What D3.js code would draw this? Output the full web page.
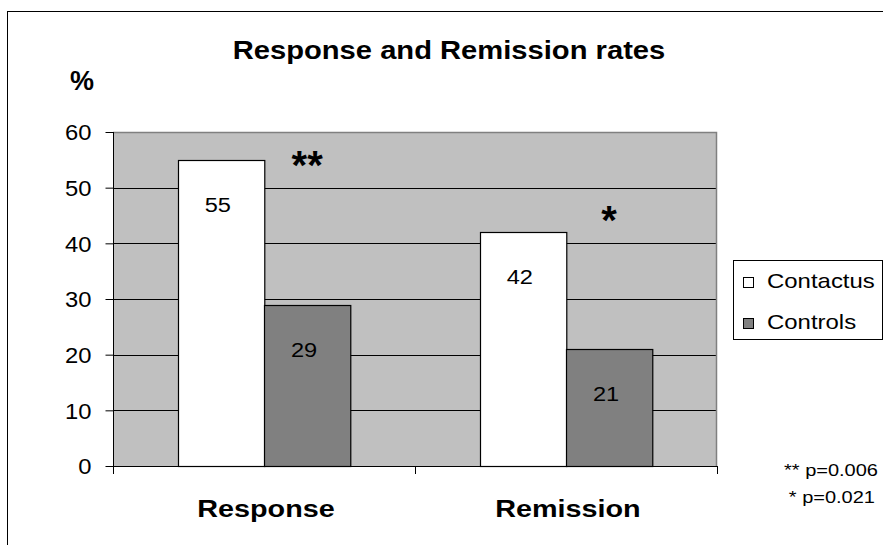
<!DOCTYPE html>
<html>
<head>
<meta charset="utf-8">
<script src="https://cdn.jsdelivr.net/npm/d3@7"></script>
<style>
  html, body { margin: 0; padding: 0; background: #fff; }
  svg { display: block; font-family: Arial, "Liberation Sans", sans-serif; }
</style>
</head>
<body>
<svg id="chart" width="883" height="545"></svg>
<script>
// ---- data ----
const categories = ["Response", "Remission"];
const series = ["Contactus", "Controls"];
const contactusValues = [55, 42];
const controlsValues = [29, 21];
const significanceMarks = ["**", "*"];
const significanceLevels = [55.3, 45.5];
const yTickValues = [0, 10, 20, 30, 40, 50, 60];
const pValueNotes = ["** p=0.006", "* p=0.021"];
const seriesColors = ["#FFFFFF", "#808080"];

// ---- layout ----
const svg = d3.select("#chart");
const W = 883, H = 545;
const plot = { left: 113, right: 717, top: 132, bottom: 466 };

// stretch text horizontally to mimic the wide rendering of the original
function stretch(sel, factor) {
  sel.each(function () {
    const w = this.getComputedTextLength();
    d3.select(this).attr("textLength", w * factor).attr("lengthAdjust", "spacingAndGlyphs");
  });
  return sel;
}

// outer border
svg.append("rect")
  .attr("x", 7.5).attr("y", 11.5)
  .attr("width", W + 20).attr("height", H + 20)
  .attr("fill", "none").attr("stroke", "#000").attr("stroke-width", 1);

// scales
const x0 = d3.scaleBand().domain(categories).range([plot.left, plot.right]).paddingInner(0).paddingOuter(0);
const bw = x0.bandwidth() / 3.5; // gap width 150%
const x1 = d3.scaleBand().domain(series).range([0.75 * bw, x0.bandwidth() - 0.75 * bw]).padding(0);
const y = d3.scaleLinear().domain([0, 60]).range([plot.bottom, plot.top]);

// plot background
svg.append("rect")
  .attr("x", plot.left).attr("y", plot.top)
  .attr("width", plot.right - plot.left).attr("height", plot.bottom - plot.top)
  .attr("fill", "#C0C0C0");

// gridlines
svg.append("g").selectAll("line")
  .data(yTickValues.filter(d => d > 0 && d < 60))
  .join("line")
  .attr("x1", plot.left).attr("x2", plot.right)
  .attr("y1", d => Math.round(y(d)) + 0.5).attr("y2", d => Math.round(y(d)) + 0.5)
  .attr("stroke", "#000").attr("stroke-width", 1);

// plot border (top & right gray)
svg.append("path")
  .attr("d", `M${plot.left},${plot.top + 0.5}H${plot.right - 0.5}V${plot.bottom}`)
  .attr("fill", "none").attr("stroke", "#808080").attr("stroke-width", 1.5);

// bars
const rows = categories.map((c, i) => ({ cat: c, vals: [contactusValues[i], controlsValues[i]] }));
const gBars = svg.append("g");
rows.forEach(r => {
  r.vals.forEach((v, j) => {
    const xx = x0(r.cat) + x1(series[j]);
    gBars.append("rect")
      .attr("x", Math.round(xx) + 0.5)
      .attr("y", Math.round(y(v)) + 0.5)
      .attr("width", x1.bandwidth())
      .attr("height", y(0) - Math.round(y(v)))
      .attr("fill", seriesColors[j])
      .attr("stroke", "#000").attr("stroke-width", 1.2);
    const lab = gBars.append("text")
      .attr("x", xx + x1.bandwidth() / 2 - 3)
      .attr("y", y(v) + 52)
      .attr("text-anchor", "middle")
      .attr("font-size", 20)
      .attr("fill", "#000")
      .text(v);
    stretch(lab, 1.18);
  });
});

// significance marks over controls bars
categories.forEach((c, i) => {
  const t = svg.append("text")
    .attr("x", x0(c) + x1("Controls") + x1.bandwidth() / 2)
    .attr("y", y(significanceLevels[i]) + 21)
    .attr("text-anchor", "middle")
    .attr("font-size", 40)
    .attr("font-weight", "bold")
    .text(significanceMarks[i]);
});

// y axis
const yAxis = d3.axisLeft(y).tickValues(yTickValues).tickSize(8).tickPadding(0).tickFormat(d3.format("d"));
const gy = svg.append("g").attr("transform", `translate(${plot.left + 0.5},0)`).call(yAxis);
gy.select(".domain").attr("stroke", "#000").attr("d", `M0,${plot.top}V${plot.bottom}`);
gy.selectAll(".tick line").attr("stroke", "#000");
gy.selectAll(".tick text")
  .attr("x", -22)
  .attr("font-size", 22)
  .attr("font-family", "Arial, 'Liberation Sans', sans-serif")
  .attr("fill", "#000")
  .attr("dy", "0.36em");
stretch(gy.selectAll(".tick text"), 1.08);

// x axis (category boundary ticks)
const gx = svg.append("g");
gx.append("line")
  .attr("x1", plot.left).attr("x2", plot.right)
  .attr("y1", plot.bottom + 0.5).attr("y2", plot.bottom + 0.5)
  .attr("stroke", "#000");
const boundaries = categories.map(c => x0(c)).concat([x0(categories[categories.length - 1]) + x0.bandwidth()]);
gx.selectAll("line.tk").data(boundaries).join("line")
  .attr("class", "tk")
  .attr("x1", d => Math.round(d) + 0.5).attr("x2", d => Math.round(d) + 0.5)
  .attr("y1", plot.bottom).attr("y2", plot.bottom + 8)
  .attr("stroke", "#000");
const catLabels = gx.selectAll("text.cat").data(categories).join("text")
  .attr("class", "cat")
  .attr("x", d => x0(d) + x0.bandwidth() / 2 + 2)
  .attr("y", 517)
  .attr("text-anchor", "middle")
  .attr("font-size", 23)
  .attr("font-weight", "bold")
  .text(d => d);
stretch(catLabels, 1.25);

// title
const title = svg.append("text")
  .attr("x", 449).attr("y", 58.5)
  .attr("text-anchor", "middle")
  .attr("font-size", 26.5)
  .attr("font-weight", "bold")
  .text("Response and Remission rates");
stretch(title, 1.1);

// % label
svg.append("text")
  .attr("x", 82).attr("y", 90)
  .attr("text-anchor", "middle")
  .attr("font-size", 27)
  .attr("font-weight", "bold")
  .text("%");

// legend
const lg = svg.append("g");
lg.append("rect")
  .attr("x", 733.5).attr("y", 260.5).attr("width", 149).attr("height", 79)
  .attr("fill", "#fff").attr("stroke", "#000");
series.forEach((s, i) => {
  const cy = [282, 323][i];
  lg.append("rect")
    .attr("x", 743.5).attr("y", cy - 5 + 0.5).attr("width", 10).attr("height", 10)
    .attr("fill", seriesColors[i]).attr("stroke", "#000");
  const t = lg.append("text")
    .attr("x", 767).attr("y", cy + 5.5)
    .attr("font-size", 21)
    .text(s);
  stretch(t, 1.14);
});

// p-value notes
pValueNotes.forEach((n, i) => {
  const t = svg.append("text")
    .attr("x", [878, 875][i]).attr("y", [475.5, 502.5][i])
    .attr("text-anchor", "end")
    .attr("font-size", 16)
    .text(n);
  stretch(t, 1.25);
});
</script>
</body>
</html>
